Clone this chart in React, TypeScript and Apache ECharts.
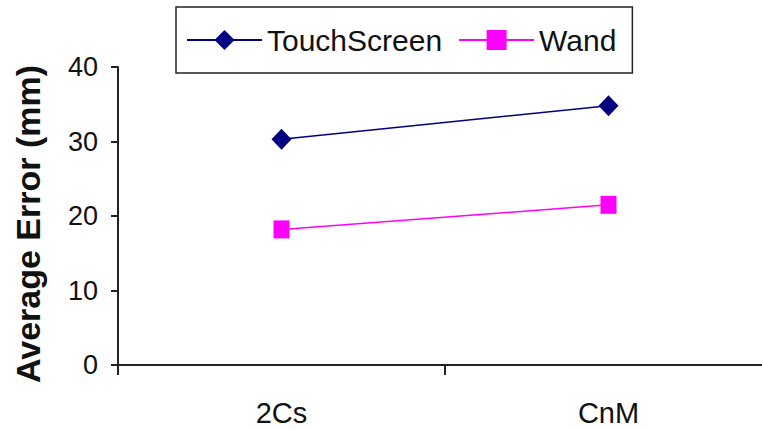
import React, { useEffect, useRef } from "react";
import * as echarts from "echarts";

const categories = ["2Cs", "CnM"];
const touchScreen = [30.3, 34.8];
const wand = [18.2, 21.5];
const yTicks = { min: 0, max: 40, interval: 10 };
const yAxisTitle = "Average Error (mm)";

export default function App() {
  const ref = useRef<HTMLDivElement>(null);
  useEffect(() => {
    if (!ref.current) return;
    const chart = echarts.init(ref.current, undefined, { renderer: "svg" });
    const font = "'Liberation Sans', Arial, Helvetica, sans-serif";
    chart.setOption({
      animation: false,
      backgroundColor: "#ffffff",
      textStyle: { fontFamily: font },
      legend: {
        left: 176,
        top: 7,
        padding: [18, 16, 18, 10],
        itemWidth: 75,
        itemHeight: 25,
        itemGap: 16,
        borderColor: "#222",
        borderWidth: 1.5,
        textStyle: { fontSize: 30, color: "#111", fontFamily: font },
        data: ["TouchScreen", "Wand"],
      },
      graphic: [
        {
          type: "text",
          x: 28,
          y: 224,
          rotation: Math.PI / 2,
          style: {
            text: yAxisTitle,
            fontSize: 34,
            fontWeight: "bold",
            fill: "#111",
            fontFamily: font,
            align: "center",
            verticalAlign: "middle",
          },
        },
      ],
      grid: { left: 118, right: 0, top: 67, bottom: 65 },
      xAxis: {
        type: "category",
        data: categories,
        axisLine: { lineStyle: { color: "#222", width: 2 } },
        axisTick: { show: true, length: 10, lineStyle: { color: "#222", width: 2 } },
        axisLabel: { fontSize: 29, color: "#111", margin: 33, fontFamily: font },
      },
      yAxis: {
        type: "value",
        min: yTicks.min,
        max: yTicks.max,
        interval: yTicks.interval,
        splitLine: { show: false },
        axisLine: { show: true, lineStyle: { color: "#222", width: 2 } },
        axisTick: { show: true, length: 7, lineStyle: { color: "#222", width: 2 } },
        axisLabel: { fontSize: 27, color: "#111", margin: 20, fontFamily: font },
      },
      series: [
        {
          name: "TouchScreen",
          type: "line",
          data: touchScreen,
          symbol: "diamond",
          symbolSize: [20, 21],
          color: "#000080",
          lineStyle: { color: "#000080", width: 1.5 },
          itemStyle: { color: "#000080" },
        },
        {
          name: "Wand",
          type: "line",
          data: wand,
          symbol: "rect",
          symbolSize: [16, 18],
          color: "#ff00ff",
          lineStyle: { color: "#ff00ff", width: 1.5 },
          itemStyle: { color: "#ff00ff" },
        },
      ],
    });
    return () => chart.dispose();
  }, []);
  return (
    <div style={{ position: "absolute", left: 0, top: 0, width: 762, height: 430, overflow: "hidden", background: "#fff" }}>
      <div ref={ref} style={{ width: 772, height: 430 }} />
    </div>
  );
}
